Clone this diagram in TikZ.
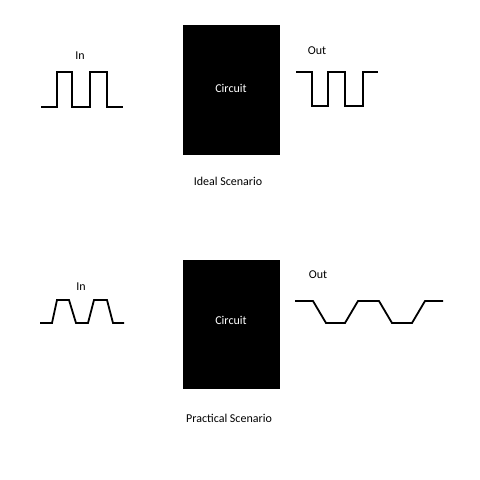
\documentclass[tikz,border=0pt]{standalone}
\usepackage{fontspec}
\setmainfont{Carlito}
\usepackage{tikz}

\begin{document}
\begin{tikzpicture}[x=1pt,y=1pt]
\tikzstyle{every node}+=[inner sep=0pt, font=\fontsize{12}{14}\selectfont]
\tikzstyle{circuit}=[fill=black, text=white, minimum width=97pt]
\tikzstyle{wave}=[black, line width=1.8pt]
\useasboundingbox (0,0) rectangle (480,-480);
% ideal
\node [circuit, minimum height=130pt] (cktA) at (231.5,-90) {};
\node [text=white] (cktAlbl) at (231,-88) {Circuit};
\node (idealLbl) at (228,-181) {Ideal Scenario};
\node (inA) at (80,-56) {In};
\node (outA) at (317,-51) {Out};
\draw [wave] (41,-107) -- (57,-107) -- (57,-72) -- (72,-72) -- (72,-107) -- (90,-107) -- (90,-72) -- (107,-72) -- (107,-107) -- (123,-107);
\draw [wave] (296,-72) -- (312,-72) -- (312,-106) -- (328,-106) -- (328,-72) -- (345,-72) -- (345,-106) -- (363,-106) -- (363,-72) -- (378,-72);
% practical
\node [circuit, minimum height=129pt] (cktB) at (231.5,-324.5) {};
\node [text=white] (cktBlbl) at (231,-320) {Circuit};
\node (practLbl) at (229,-418) {Practical Scenario};
\node (inB) at (81,-287) {In};
\node (outB) at (318,-275) {Out};
\draw [wave] (40,-323) -- (52,-323) -- (57,-300) -- (69,-300) -- (76,-323) -- (88,-323) -- (94,-300) -- (107,-300) -- (113,-323) -- (124,-323);
\draw [wave] (295,-301) -- (313,-301) -- (326,-323) -- (345,-323) -- (358,-301) -- (379,-301) -- (392,-323) -- (412,-323) -- (425,-301) -- (443,-301);
\end{tikzpicture}
\end{document}
